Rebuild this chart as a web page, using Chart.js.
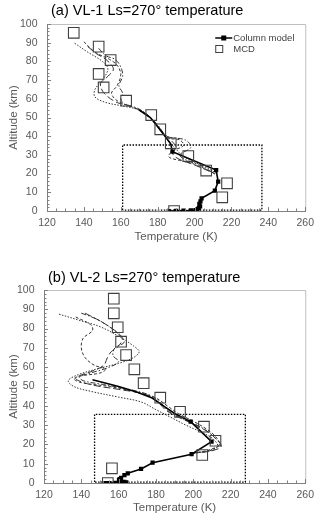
<!DOCTYPE html>
<html>
<head>
<meta charset="utf-8">
<script src="https://cdn.jsdelivr.net/npm/chart.js@4.4.1/dist/chart.umd.min.js"></script>
<style>
  body { margin: 0; background: #fff; }
  canvas { position: absolute; left: 0; }
  .title { position: absolute; font-family: "Liberation Sans", Arial, sans-serif; font-size: 14.5px; color: #000; white-space: nowrap; }
</style>
</head>
<body>
<canvas id="chartA" style="top:0" width="320" height="250"></canvas>
<canvas id="chartB" style="top:266px" width="320" height="252"></canvas>
<div class="title" style="left:51px; top:2px">(a) VL-1 Ls=270° temperature</div>
<div class="title" style="left:48px; top:269px">(b) VL-2 Ls=270° temperature</div>
<script>
// (a) VL-1 - MCD
const mcdTempA = [134.5, 148, 154.5, 148, 150.7, 162.9, 176.5, 181.4, 187.1, 196.6, 206.3, 217.6, 215, 188.9];
const mcdAltA  = [95.3, 87.9, 80.7, 73.3, 66.1, 59, 51.3, 43.7, 36.2, 29.4, 21.6, 14.8, 7.3, 0];
// (a) column model
const colTempA = [170, 176, 180, 184, 187, 188, 211.7, 212.8, 211, 203.8, 203.2, 202.6, 203, 202.3, 201.5, 200.5, 198, 194, 190, 186];
const colAltA  = [54, 50, 45, 40, 36, 31.7, 21.9, 15.7, 10.9, 6.8, 5.2, 3.8, 2.5, 1.6, 1, 0.5, 0.3, 0.15, 0.05, 0];
// (a) other model profiles
const m1TempA = [135, 142, 150, 153, 150, 146, 146, 152, 162, 170, 176, 180, 184, 187, 190, 193, 198, 205, 212];
const m1AltA  = [89.7, 85, 80, 76, 70, 65, 61, 58, 56, 54, 50, 45, 40, 36, 33, 30, 27, 24, 20];
const m2TempA = [140, 146, 154, 158, 160, 158, 155, 158, 165, 172, 177, 181, 186, 192, 194, 188, 186, 192, 200, 211];
const m2AltA  = [90.5, 85, 81, 78, 73, 67, 63, 59, 56, 53, 49, 44, 39, 38, 35, 32, 29, 27, 25, 20];
const m3TempA = [142, 147, 152, 156, 153, 149, 151, 158, 166, 173, 178, 183, 188, 190, 188, 191, 199, 211];
const m3AltA  = [88, 84, 81, 76, 72, 68, 63, 58, 56, 52, 48, 42, 37, 34, 31, 28, 25, 20];
const m4TempA = [148, 152, 157, 160, 161, 159, 161, 160, 162, 169, 175, 180, 185, 195, 198, 192, 196, 204, 212];
const m4AltA  = [87, 83, 81, 77, 72, 67, 63, 60, 57, 55, 51, 46, 40, 38, 34, 30, 27, 24, 19];
// (a) box around the lower atmosphere
const boxTempA = [161, 161, 236.5, 236.5, 161];
const boxAltA  = [0.5, 35.3, 35.3, 0.5, 0.5];

// (b) VL-2 - MCD
const mcdTempB = [157.4, 157.4, 159.5, 161.3, 164, 168.4, 173.4, 182.3, 192.9, 205.7, 211.9, 204.8, 156.4, 154.2];
const mcdAltB  = [95.5, 87.9, 80.7, 73.2, 66.3, 58.9, 51.7, 44.2, 36.9, 29.2, 21.9, 14.5, 7.6, 0];
// (b) column model
const colTempB = [146, 160, 170, 178, 184, 190, 198.6, 209.8, 199.1, 178.2, 172, 164.9, 163.1, 161.3, 160.5, 160.2, 161, 163, 164, 162, 158, 155, 153];
const colAltB  = [53.5, 50, 47, 44, 40, 36, 31.8, 21.4, 14.9, 10.5, 7.3, 5, 4.1, 2.7, 2, 1.5, 1, 0.6, 0.3, 0.15, 0.05, 0, 0];
// (b) other model profiles
const m1TempB = [128, 140, 150, 160, 168, 171, 168, 160, 148, 138, 133, 136, 145, 160, 172, 180, 188, 196, 205, 211, 213, 207, 200];
const m1AltB  = [87.5, 84, 81, 76, 71, 68, 65, 62, 59, 56, 53, 50, 47.5, 44.5, 42, 38, 34, 30, 26, 22.5, 19, 16.5, 15.5];
const m2TempB = [137, 145, 146, 141, 140, 142, 147, 153, 150, 140, 136, 140, 155, 170, 180, 186, 192, 200, 207, 212, 214, 208, 200];
const m2AltB  = [86, 82, 79, 75, 70, 65, 61, 59, 57, 55.5, 54, 52, 50, 47, 44, 40, 36, 32, 28, 24, 20, 17, 15.5];
const m3TempB = [142, 150, 158, 162, 160, 156, 154, 152, 146, 140, 137, 145, 160, 174, 181, 185, 190, 199, 207, 212, 215, 209, 200];
const m3AltB  = [88, 84, 79, 75, 71, 68, 65, 61, 58, 56, 54, 51, 48.5, 46, 42, 38, 35, 31, 27, 23, 19, 16.5, 15.5];
const m4TempB = [140, 148, 155, 160, 163, 158, 157, 160, 155, 145, 139, 141, 152, 168, 178, 183, 187, 195, 204, 211, 214, 210, 200];
const m4AltB  = [88, 85, 81, 77, 73, 70, 66, 63, 60, 57, 55, 53, 51, 48, 45, 41, 37, 33, 29, 24, 20, 17, 15.5];
// (b) box around the lower atmosphere
const boxTempB = [147.1, 147.1, 227.9, 227.9, 147.1];
const boxAltB  = [0.5, 35.6, 35.6, 0.5, 0.5];

Chart.defaults.font.family = '"Liberation Sans", Arial, sans-serif';

function pts(temps, alts) {
    return temps.map((t, i) => ({ x: t, y: alts[i] }));
}

function modelLine(temps, alts, dash) {
    return {
        label: 'model', data: pts(temps, alts), showLine: true,
        borderColor: '#333', borderWidth: 1, borderDash: dash,
        pointRadius: 0, tension: 0.35, fill: false
    };
}

// frame on top/right, small ticks on the axes
const axisDecor = {
    id: 'axisDecor',
    afterDatasetsDraw(chart) {
        const { ctx, chartArea: a, scales: { x, y } } = chart;
        ctx.save();
        ctx.strokeStyle = '#bfbfbf';
        ctx.lineWidth = 1;
        ctx.beginPath();
        ctx.moveTo(a.left, a.top + 0.5);
        ctx.lineTo(a.right + 0.5, a.top + 0.5);
        ctx.lineTo(a.right + 0.5, a.bottom);
        ctx.stroke();
        ctx.strokeStyle = '#808080';
        ctx.beginPath();
        for (let v = 0; v <= 100; v += 2) {
            const py = Math.round(y.getPixelForValue(v)) + 0.5;
            ctx.moveTo(a.left, py);
            ctx.lineTo(a.left + (v % 10 === 0 ? 4 : 2.5), py);
        }
        for (let v = 120; v <= 260; v += 5) {
            const px = Math.round(x.getPixelForValue(v)) + 0.5;
            ctx.moveTo(px, a.bottom);
            ctx.lineTo(px, a.bottom - (v % 20 === 0 ? 4 : 2.5));
        }
        ctx.stroke();
        ctx.restore();
    }
};

// legend drawn inside the plot, top right
const insideLegend = {
    id: 'insideLegend',
    afterDatasetsDraw(chart, args, opts) {
        if (!opts.show) return;
        const { ctx, chartArea: a } = chart;
        const x0 = a.right - 90, y1 = a.top + 14, y2 = a.top + 25;
        ctx.save();
        ctx.strokeStyle = '#000';
        ctx.lineWidth = 1.5;
        ctx.beginPath();
        ctx.moveTo(x0, y1);
        ctx.lineTo(x0 + 17, y1);
        ctx.stroke();
        ctx.fillStyle = '#000';
        ctx.fillRect(x0 + 6, y1 - 2.5, 5, 5);
        ctx.lineWidth = 1;
        ctx.strokeStyle = '#404040';
        ctx.strokeRect(x0 + 0.5, y2 - 3.5, 7, 7);
        ctx.fillStyle = '#404040';
        ctx.font = '9.5px "Liberation Sans", Arial, sans-serif';
        ctx.textBaseline = 'middle';
        ctx.fillText(chart.data.datasets[1].label, x0 + 18, y1);
        ctx.fillText(chart.data.datasets[0].label, x0 + 18, y2);
        ctx.restore();
    }
};

function makeChart(id, d, layout) {
    const datasets = [
        { label: 'MCD', data: pts(d.mcdT, d.mcdA), showLine: false,
          pointStyle: 'rect', pointRadius: 7.5, pointBorderColor: '#404040',
          pointBackgroundColor: 'rgba(0,0,0,0)', pointBorderWidth: 1.1 },
        { label: 'Column model', data: pts(d.colT, d.colA), showLine: true,
          borderColor: '#000', borderWidth: 1.6, tension: 0,
          pointStyle: 'rect', pointRadius: c => (c.raw && c.raw.y > 33 ? 0 : 3),
          pointBackgroundColor: '#000', pointBorderColor: '#000', pointBorderWidth: 0 },
        modelLine(d.m1T, d.m1A, [1.5, 1.5]),
        modelLine(d.m2T, d.m2A, [3, 2]),
        modelLine(d.m3T, d.m3A, [7, 3]),
        modelLine(d.m4T, d.m4A, [5, 2, 1.5, 2]),
        { label: 'box', data: pts(d.boxT, d.boxA), showLine: true, tension: 0,
          borderColor: '#000', borderWidth: 1.3, borderDash: [1.5, 1.5], pointRadius: 0 }
    ];
    return new Chart(document.getElementById(id), {
        type: 'scatter',
        data: { datasets: datasets },
        options: {
            responsive: false,
            animation: false,
            layout: { padding: { top: 24, right: 13, left: 0, bottom: 0 } },
            plugins: {
                legend: { display: false },
                tooltip: { enabled: false },
                insideLegend: { show: layout.legend }
            },
            scales: {
                x: {
                    type: 'linear', min: 120, max: 260,
                    afterFit: s => { s.height = layout.xHeight; },
                    ticks: { stepSize: 20, padding: 6, color: '#595959', font: { size: 10.5 } },
                    grid: { drawOnChartArea: false, drawTicks: false },
                    border: { color: '#808080' },
                    title: { display: true, text: 'Temperature (K)', color: '#595959',
                             font: { size: 11.5 }, padding: { top: 0, bottom: layout.xTitlePad } }
                },
                y: {
                    min: 0, max: 100,
                    afterFit: s => { s.width = layout.yWidth; },
                    ticks: { stepSize: 10, padding: 9.5, color: '#595959', font: { size: 10.5 } },
                    grid: { drawOnChartArea: false, drawTicks: false },
                    border: { color: '#808080' },
                    title: { display: true, text: 'Altitude (km)', color: '#595959',
                             font: { size: 11.5 }, padding: { top: 7, bottom: 0 } }
                }
            }
        },
        plugins: [axisDecor, insideLegend]
    });
}

makeChart('chartA', {
    mcdT: mcdTempA, mcdA: mcdAltA, colT: colTempA, colA: colAltA,
    m1T: m1TempA, m1A: m1AltA, m2T: m2TempA, m2A: m2AltA,
    m3T: m3TempA, m3A: m3AltA, m4T: m4TempA, m4A: m4AltA,
    boxT: boxTempA, boxA: boxAltA
}, { xHeight: 39, yWidth: 47, xTitlePad: 6, legend: true });

makeChart('chartB', {
    mcdT: mcdTempB, mcdA: mcdAltB, colT: colTempB, colA: colAltB,
    m1T: m1TempB, m1A: m1AltB, m2T: m2TempB, m2A: m2AltB,
    m3T: m3TempB, m3A: m3AltB, m4T: m4TempB, m4A: m4AltB,
    boxT: boxTempB, boxA: boxAltB
}, { xHeight: 35, yWidth: 44, xTitlePad: 3, legend: false });
</script>
</body>
</html>
